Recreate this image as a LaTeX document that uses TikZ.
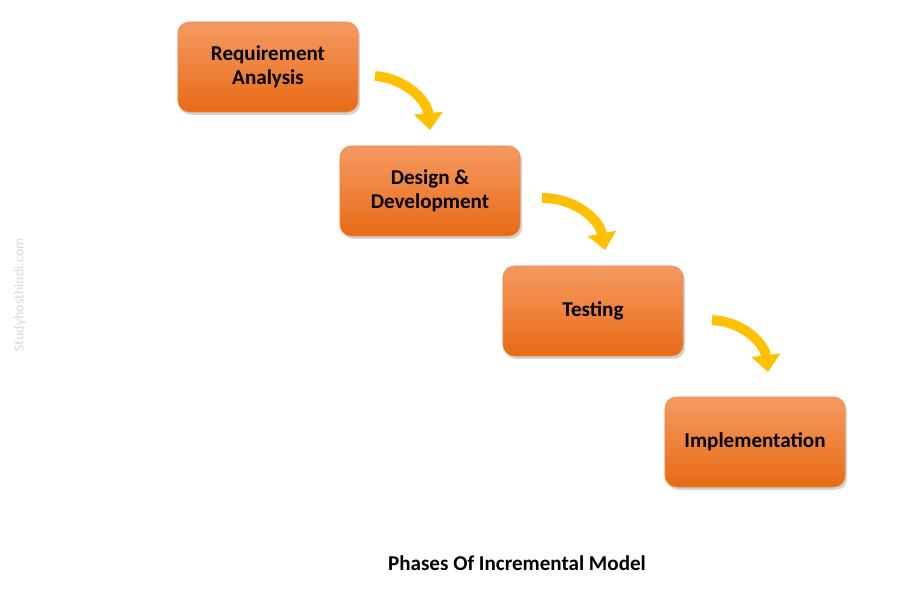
\documentclass[tikz,border=0pt]{standalone}
\usepackage{fontspec}
\setmainfont{Carlito}
\usetikzlibrary{arrows.meta,shadows}
\definecolor{boxtop}{HTML}{F59A62}
\definecolor{boxbot}{HTML}{E86A15}
\definecolor{arrowyel}{HTML}{FFC000}
\tikzset{
  phase/.style={rounded corners=8pt, minimum width=4.5cm, minimum height=2.25cm,
    top color=boxtop, bottom color=boxbot, draw=boxbot!80!white,
    drop shadow={shadow xshift=1.5pt, shadow yshift=-2pt, opacity=0.35},
    font=\fontsize{15}{17}\selectfont\bfseries, align=center},
  flow/.style={line width=7pt, arrowyel, -{Triangle[length=12pt, width=20pt]}, bend left=40}
}
\begin{document}
\begin{tikzpicture}[x=0.025cm, y=-0.025cm]
\useasboundingbox (0,0) rectangle (918,594);
% Phases
\node[phase] (req) at (268,67) {Requirement\\Analysis};
\node[phase] (dev) at (430,191) {Design \&\\Development};
\node[phase] (test) at (593,311) {Testing};
\node[phase] (impl) at (755,442) {Implementation};

% Arrows
\coordinate (a1) at (375,76);
\coordinate (b1) at (430,130);
\coordinate (a2) at (542,198);
\coordinate (b2) at (605,250);
\coordinate (a3) at (712,320);
\coordinate (b3) at (768,372);
\draw[flow] (a1) to (b1);
\draw[flow] (a2) to (b2);
\draw[flow] (a3) to (b3);

% Caption
\node[font=\fontsize{15}{17}\selectfont\bfseries] (cap) at (517,563) {Phases Of Incremental Model};
\node[rotate=90, text=black!15, font=\fontsize{10}{12}\selectfont] (mark) at (20,295) {Studyhosthindi.com};
\end{tikzpicture}
\end{document}
